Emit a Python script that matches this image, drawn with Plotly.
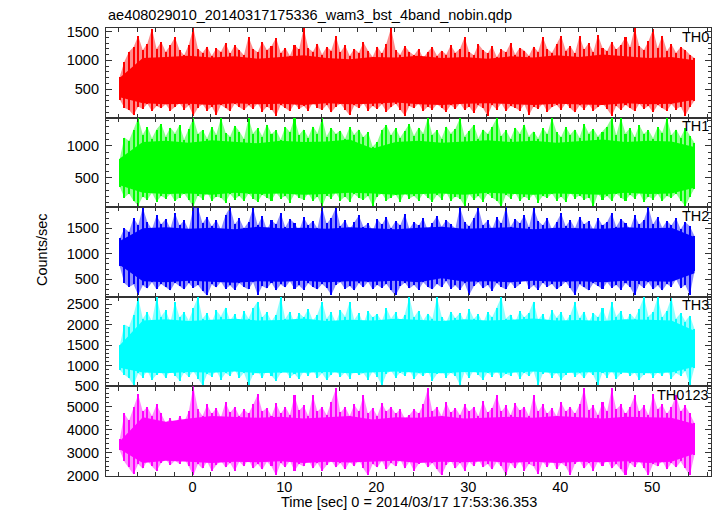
import plotly.graph_objects as go
from plotly.subplots import make_subplots

# ---- time grid (seconds since 2014/03/17 17:53:36.353) ----
T_START = -7.9
T_STEP = 0.5
N_BINS = 126
time_s = [T_START + T_STEP * i for i in range(N_BINS)]
core_time = time_s[::5]

band_names = ["TH0", "TH1", "TH2", "TH3", "TH0123"]
band_colors = ["#ff0000", "#00ff00", "#0000ff", "#00ffff", "#ff00ff"]
band_fringe = ["rgba(255,0,0,0.45)", "rgba(0,255,0,0.45)", "rgba(0,0,255,0.45)",
               "rgba(0,255,255,0.45)", "rgba(255,0,255,0.45)"]

# ---- per-bin maximum / minimum rates (counts/sec) ----
th0_max = [720, 980, 1150, 1230, 1420, 1180, 1290, 1550, 1200, 1320,
           1150, 1260, 1400, 1180, 1090, 1270, 1560, 1200, 1130, 1240,
           1080, 1210, 1150, 1300, 1120, 1260, 1180, 1090, 1410, 1200,
           1140, 1320, 1180, 1250, 1390, 1130, 1220, 1080, 1270, 1190,
           1560, 1210, 1150, 1290, 1100, 1230, 1170, 1420, 1140, 1260,
           1080, 1200, 1130, 1310, 1170, 1060, 1240, 1120, 1290, 1560,
           1180, 1100, 1250, 1150, 1090, 1200, 1040, 1150, 1230, 1080,
           1170, 1100, 1260, 1130, 1200, 1400, 1150, 1090, 1280, 1180,
           1120, 1250, 1060, 1190, 1140, 1300, 1100, 1220, 1170, 1080,
           1240, 1150, 1410, 1200, 1130, 1280, 1430, 1170, 1250, 1120,
           1420, 1190, 1300, 1140, 1440, 1220, 1160, 1320, 1190, 1270,
           1400, 1230, 1560, 1250, 1180, 1330, 1540, 1210, 1430, 1160,
           1280, 1130, 1230, 1180, 1100, 1040]
th0_min = [320, 180, 140, 50, 200, 160, 250, 120, 210, 170,
           240, 130, 190, 260, 150, 220, 40, 180, 240, 130,
           200, 50, 230, 170, 120, 250, 190, 140, 220, 160,
           260, 110, 200, 150, 40, 230, 180, 120, 250, 160,
           210, 130, 270, 180, 140, 230, 100, 200, 250, 150,
           50, 220, 170, 260, 130, 210, 160, 240, 110, 190,
           250, 140, 40, 210, 170, 260, 120, 200, 150, 240,
           180, 110, 230, 160, 260, 140, 200, 90, 220, 170,
           40, 230, 150, 260, 120, 210, 180, 130, 240, 50,
           200, 160, 250, 110, 190, 230, 140, 260, 170, 100,
           220, 150, 240, 130, 190, 250, 160, 40, 210, 140,
           230, 180, 120, 250, 160, 210, 100, 230, 170, 130,
           240, 150, 200, 40, 190, 300]
th1_max = [800, 1130, 1080, 1250, 1440, 1180, 1300, 1120, 1260, 1350,
           1150, 1290, 1200, 1330, 1100, 1270, 1440, 1190, 1250, 1120,
           1300, 1180, 1440, 1210, 1150, 1320, 1230, 1110, 1440, 1200,
           1280, 1150, 1340, 1190, 1250, 1100, 1300, 1220, 1440, 1170,
           1260, 1130, 1310, 1200, 1440, 1150, 1280, 1190, 1240, 1110,
           1300, 1180, 1260, 1140, 1220, 990, 1060, 1250, 1330, 1170,
           1280, 1130, 1240, 1350, 1160, 1290, 1200, 1440, 1180, 1250,
           1120, 1310, 1200, 1270, 1440, 1150, 1240, 1330, 1120, 1260,
           1190, 1300, 1440, 1160, 1250, 1110, 1290, 1200, 1340, 1150,
           1230, 1120, 1280, 1190, 1440, 1220, 1140, 1300, 1180, 1260,
           1130, 1350, 1200, 1270, 1150, 1230, 1310, 1440, 1170, 1440,
           1200, 1280, 1140, 1330, 1190, 1250, 1120, 1300, 1210, 1440,
           1170, 1260, 1130, 1280, 1160, 1050]
th1_min = [350, 180, 250, 130, 60, 200, 150, 260, 120, 210,
           170, 240, 130, 190, 250, 150, 40, 220, 160, 270,
           130, 200, 180, 110, 240, 160, 210, 130, 250, 170,
           120, 230, 190, 140, 260, 170, 210, 110, 240, 180,
           150, 250, 130, 200, 40, 220, 170, 260, 140, 200,
           120, 240, 180, 150, 210, 50, 200, 250, 140, 190,
           230, 120, 260, 170, 210, 140, 250, 180, 120, 230,
           160, 270, 130, 200, 170, 50, 240, 150, 210, 120,
           250, 180, 140, 40, 230, 170, 260, 130, 200, 160,
           240, 110, 210, 180, 250, 140, 200, 120, 260, 170,
           220, 150, 190, 40, 240, 160, 210, 130, 250, 180,
           140, 230, 170, 260, 120, 200, 160, 240, 130, 210,
           180, 250, 140, 50, 200, 330]
th2_max = [1300, 1500, 1430, 1700, 1560, 1900, 1620, 1480, 1750, 1580,
           1680, 1500, 1800, 1560, 1650, 1470, 1910, 1900, 1600, 1720,
           1540, 1660, 1480, 1760, 1910, 1580, 1690, 1500, 1620, 1900,
           1560, 1740, 1470, 1650, 1580, 1800, 1520, 1680, 1600, 1450,
           1710, 1560, 1640, 1500, 1910, 1590, 1700, 1900, 1540, 1660,
           1480, 1620, 1750, 1530, 1600, 1450, 1680, 1570, 1720, 1500,
           1640, 1560, 1780, 1490, 1620, 1550, 1700, 1460, 1600, 1740,
           1530, 1660, 1580, 1500, 1910, 1620, 1540, 1700, 1900, 1560,
           1650, 1480, 1720, 1590, 1910, 1530, 1680, 1600, 1760, 1520,
           1900, 1640, 1560, 1700, 1480, 1620, 1790, 1540, 1660, 1500,
           1720, 1580, 1640, 1470, 1700, 1560, 1620, 1800, 1530, 1680,
           1600, 1490, 1750, 1570, 1660, 1910, 1580, 1720, 1510, 1640,
           1560, 1700, 1480, 1620, 1540, 1350]
th2_min = [750, 420, 350, 400, 190, 380, 320, 440, 300, 410,
           350, 280, 430, 360, 300, 420, 330, 390, 270, 180,
           400, 340, 450, 310, 380, 290, 420, 350, 300, 440,
           190, 370, 320, 430, 280, 400, 340, 460, 310, 380,
           290, 420, 350, 300, 410, 330, 190, 390, 440, 310,
           370, 280, 420, 340, 450, 300, 390, 330, 410, 280,
           180, 360, 430, 320, 390, 290, 440, 350, 300, 410,
           340, 460, 310, 380, 290, 420, 190, 360, 440, 320,
           390, 270, 420, 350, 300, 440, 330, 400, 560, 310,
           380, 290, 430, 350, 410, 300, 370, 450, 320, 190,
           400, 340, 280, 420, 360, 310, 440, 330, 390, 290,
           420, 350, 180, 400, 330, 440, 300, 380, 280, 410,
           350, 500, 320, 390, 190, 650]
th3_max = [1500, 2000, 1950, 2250, 2660, 2150, 2300, 2080, 2670, 2200,
           2350, 2050, 2550, 2180, 2300, 2100, 2400, 2670, 2150, 2280,
           2050, 2350, 2200, 2420, 2100, 2260, 2030, 2330, 2150, 2400,
           2560, 2180, 2300, 2080, 2250, 2670, 2140, 2320, 2060, 2280,
           2180, 2380, 2100, 2250, 2560, 2150, 2300, 2050, 2350, 2200,
           2550, 2120, 2280, 2020, 2330, 2180, 2260, 2080, 2400, 2150,
           2300, 2060, 2250, 2670, 2180, 2340, 2100, 2270, 2150, 2670,
           2200, 2050, 2320, 2160, 2280, 2080, 2380, 2140, 2260, 2030,
           2300, 2180, 2420, 2670, 2150, 2250, 2060, 2330, 2180, 2290,
           2560, 2120, 2260, 2040, 2350, 2170, 2300, 2080, 2240, 2550,
           2160, 2320, 2050, 2280, 2180, 2400, 2100, 2550, 2200, 2330,
           2060, 2270, 2150, 2380, 2670, 2200, 2300, 2670, 2180, 2340,
           2660, 2150, 2280, 2080, 2220, 1900]
th3_min = [900, 780, 700, 530, 820, 720, 880, 650, 790, 850,
           700, 900, 760, 640, 840, 730, 870, 690, 520, 800,
           740, 880, 660, 820, 760, 910, 700, 830, 530, 780,
           860, 700, 900, 750, 640, 820, 880, 720, 800, 680,
           870, 760, 900, 700, 820, 650, 790, 880, 730, 840,
           690, 900, 770, 820, 660, 860, 740, 520, 800, 880,
           710, 840, 760, 900, 680, 820, 750, 870, 640, 800,
           880, 720, 830, 760, 530, 850, 700, 900, 780, 660,
           840, 740, 880, 700, 810, 760, 900, 680, 830, 750,
           870, 520, 800, 880, 720, 840, 660, 790, 900, 740,
           820, 700, 860, 770, 530, 840, 720, 880, 680, 810,
           900, 750, 830, 660, 790, 870, 720, 840, 760, 900,
           690, 820, 760, 870, 530, 950]
th0123_max = [3600, 4700, 4400, 5000, 5550, 4800, 5000, 4600, 5100, 4700,
              4300, 4500, 4200, 4600, 4350, 4800, 5900, 4900, 4600, 5100,
              4700, 4950, 4550, 5200, 4750, 5000, 4600, 4900, 4700, 5100,
              5550, 4800, 4950, 4600, 5150, 4700, 5000, 4650, 5500, 4850,
              5050, 4600, 5500, 4800, 5000, 4650, 5200, 5800, 4750, 5000,
              4600, 5100, 4800, 5500, 4700, 4950, 4600, 5150, 4800, 5000,
              4700, 4900, 4500, 4650, 4900, 4700, 5100, 5800, 4800, 5000,
              4600, 5200, 4750, 4950, 4650, 5100, 4800, 5000, 4600, 5250,
              4750, 4950, 5500, 4800, 5050, 4650, 5150, 4850, 5000, 4600,
              5500, 4800, 5100, 4700, 4950, 4600, 5200, 4800, 5000, 4700,
              5100, 5800, 4850, 5050, 4650, 5200, 4800, 5800, 4900, 5100,
              4700, 5000, 5500, 4800, 5050, 4650, 5550, 4900, 5100, 4700,
              5000, 5500, 4800, 5050, 4700, 4300]
th0123_min = [3100, 2600, 2350, 2050, 2500, 2300, 2650, 2400, 2200, 2550,
              2700, 2450, 2650, 2500, 2750, 2400, 2000, 2500, 2300, 2600,
              2200, 2450, 2650, 2350, 2550, 2200, 2600, 2400, 2700, 2300,
              2500, 2250, 2600, 2400, 2000, 2550, 2350, 2650, 2200, 2500,
              2400, 2700, 2300, 2550, 2200, 2450, 2650, 2350, 2550, 2250,
              2600, 2400, 2700, 2300, 2000, 2500, 2350, 2650, 2250, 2550,
              2400, 2700, 2300, 2600, 2200, 2500, 2650, 2350, 2550, 2250,
              2000, 2450, 2650, 2300, 2550, 2200, 2600, 2400, 2700, 2350,
              2500, 2250, 2600, 2400, 2000, 2550, 2300, 2650, 2200, 2500,
              2400, 2050, 2600, 2350, 2700, 2250, 2550, 2400, 2000, 2500,
              2650, 2300, 2550, 2200, 2600, 2400, 2700, 2300, 2500, 2250,
              2000, 2550, 2350, 2650, 2300, 2000, 2500, 2400, 2650, 2250,
              2550, 2350, 2600, 2300, 2000, 2900]

# ---- dense core of each band (every 2.5 s) ----
th0_core_hi = [700, 1040, 1060, 1080, 1050, 1070, 1030, 1060, 1090, 1040, 1020, 1060, 1050,
               1080, 1040, 1060, 1030, 1070, 1050, 1090, 1060, 1100, 1070, 1040, 1060, 1000]
th0_core_lo = [360, 260, 240, 250, 230, 260, 240, 250, 230, 260, 240, 250, 270,
               240, 230, 250, 260, 240, 230, 250, 240, 230, 260, 240, 250, 320]
th1_core_hi = [800, 1060, 1080, 1050, 1090, 1070, 1040, 1080, 1060, 1070, 1100, 960, 1060,
               1080, 1050, 1070, 1090, 1060, 1080, 1050, 1070, 1100, 1060, 1080, 1070, 980]
th1_core_lo = [380, 260, 240, 250, 230, 260, 240, 250, 230, 240, 260, 250, 230,
               240, 250, 230, 260, 240, 230, 250, 240, 230, 260, 240, 250, 340]
th2_core_hi = [1250, 1500, 1520, 1490, 1510, 1480, 1530, 1500, 1510, 1490, 1520, 1500, 1480,
               1510, 1530, 1490, 1500, 1520, 1480, 1510, 1500, 1490, 1520, 1500, 1510, 1330]
th2_core_lo = [780, 460, 440, 470, 450, 430, 460, 450, 470, 440, 460, 450, 470,
               440, 520, 450, 460, 440, 470, 450, 460, 440, 470, 460, 450, 620]
th3_core_hi = [1500, 2100, 2130, 2090, 2120, 2140, 2100, 2110, 2150, 2090, 2120, 2100, 2140,
               2110, 2090, 2130, 2100, 2120, 2150, 2100, 2110, 2090, 2130, 2120, 2100, 1850]
th3_core_lo = [950, 840, 820, 850, 830, 860, 820, 840, 830, 850, 820, 840, 860,
               830, 820, 850, 840, 830, 860, 820, 840, 850, 830, 820, 840, 980]
th0123_core_hi = [3500, 4550, 4350, 4500, 4600, 4550, 4530, 4570, 4500, 4550, 4600, 4450, 4550,
                  4530, 4600, 4500, 4550, 4570, 4530, 4600, 4550, 4500, 4570, 4550, 4530, 4250]
th0123_core_lo = [3150, 2550, 2650, 2600, 2550, 2600, 2580, 2620, 2550, 2600, 2570, 2600, 2650,
                  2550, 2600, 2580, 2620, 2560, 2600, 2550, 2600, 2580, 2620, 2550, 2600, 2950]

# ---- axis settings ----
y_ranges = [[10, 1560], [33, 1445], [157, 1912], [500, 2675], [1980, 5900]]
y_major = [500, 500, 500, 500, 1000]
y_minor = [100, 100, 100, 100, 200]
x_range = [-9.4, 56.4]
x_tick_labels = [0, 10, 20, 30, 40, 50]

title_text = "ae408029010_20140317175336_wam3_bst_4band_nobin.qdp"
x_title = "Time [sec] 0 = 2014/03/17 17:53:36.353"
y_title = "Counts/sec"

maxes = [th0_max, th1_max, th2_max, th3_max, th0123_max]
mins = [th0_min, th1_min, th2_min, th3_min, th0123_min]
core_his = [th0_core_hi, th1_core_hi, th2_core_hi, th3_core_hi, th0123_core_hi]
core_los = [th0_core_lo, th1_core_lo, th2_core_lo, th3_core_lo, th0123_core_lo]

for a in maxes + mins:
    assert len(a) == N_BINS, len(a)
for a in core_his + core_los:
    assert len(a) == len(core_time), len(a)

FONT = "Liberation Sans, Arial, Helvetica, sans-serif"
FRAME = "#333333"

fig = make_subplots(rows=5, cols=1, shared_xaxes=True, vertical_spacing=0)

for k in range(5):
    row = k + 1
    # light envelope behind everything
    xs = time_s + time_s[::-1]
    ys = maxes[k] + mins[k][::-1]
    fig.add_trace(go.Scatter(x=xs, y=ys, mode="lines", fill="toself",
                             fillcolor=band_fringe[k],
                             line=dict(color=band_fringe[k], width=0),
                             hoverinfo="skip", showlegend=False), row=row, col=1)
    # each bin's min..max excursion as a thin vertical stroke
    fig.add_trace(go.Bar(x=time_s, base=mins[k],
                         y=[hi - lo for hi, lo in zip(maxes[k], mins[k])],
                         width=0.22, marker=dict(color=band_colors[k], line=dict(width=0)),
                         hoverinfo="skip", showlegend=False), row=row, col=1)
    # solid core
    cxs = core_time + core_time[::-1]
    cys = core_his[k] + core_los[k][::-1]
    fig.add_trace(go.Scatter(x=cxs, y=cys, mode="lines", fill="toself",
                             fillcolor=band_colors[k],
                             line=dict(color=band_colors[k], width=0),
                             hoverinfo="skip", showlegend=False, name=band_names[k]),
                  row=row, col=1)
    fig.update_yaxes(range=y_ranges[k], dtick=y_major[k], tick0=0,
                     ticks="inside", ticklen=6, tickwidth=1, tickcolor=FRAME,
                     minor=dict(dtick=y_minor[k], tick0=0, ticks="inside", ticklen=3,
                                tickcolor=FRAME, tickwidth=1),
                     showline=True, linecolor=FRAME, linewidth=1.2, mirror="ticks",
                     showgrid=False, zeroline=False,
                     tickfont=dict(family=FONT, size=14.5, color="black"),
                     ticklabelstandoff=3,
                     row=row, col=1)
    fig.update_xaxes(range=x_range, tickvals=x_tick_labels,
                     ticks="inside", ticklen=4, tickwidth=1, tickcolor=FRAME,
                     minor=dict(dtick=2, tick0=0, ticks="inside", ticklen=4,
                                tickcolor=FRAME, tickwidth=1),
                     showline=True, linecolor=FRAME, linewidth=1.2, mirror="ticks",
                     showgrid=False, zeroline=False,
                     tickfont=dict(family=FONT, size=14.5, color="black"),
                     ticklabelstandoff=-3,
                     row=row, col=1)
    yref = "y domain" if k == 0 else f"y{row} domain"
    xref = "x domain" if k == 0 else f"x{row} domain"
    fig.add_annotation(text=band_names[k], xref=xref, yref=yref, x=1.0, y=0.905,
                       xanchor="right", yanchor="middle", showarrow=False,
                       font=dict(family=FONT, size=14.5, color="black"))

fig.add_annotation(text=title_text, xref="paper", yref="paper", x=0.0, y=1.03,
                   xanchor="left", yanchor="middle", showarrow=False,
                   font=dict(family=FONT, size=14.5, color="black"))
fig.add_annotation(text=x_title, xref="paper", yref="paper", x=0.5, y=-0.058,
                   xanchor="center", yanchor="middle", showarrow=False,
                   font=dict(family=FONT, size=14.5, color="black"))
fig.add_annotation(text=y_title, xref="paper", yref="paper", x=-0.107, y=0.505,
                   xanchor="center", yanchor="middle", textangle=-90, showarrow=False,
                   font=dict(family=FONT, size=14.5, color="black"))

fig.update_layout(width=717, height=516,
                  margin=dict(l=106, r=6, t=28, b=40),
                  paper_bgcolor="white", plot_bgcolor="white",
                  showlegend=False, bargap=0)

fig.write_html("out.html",
               config={"displayModeBar": False},
               post_script="document.body.style.margin='0px';"
                           "document.body.style.overflow='hidden';")
